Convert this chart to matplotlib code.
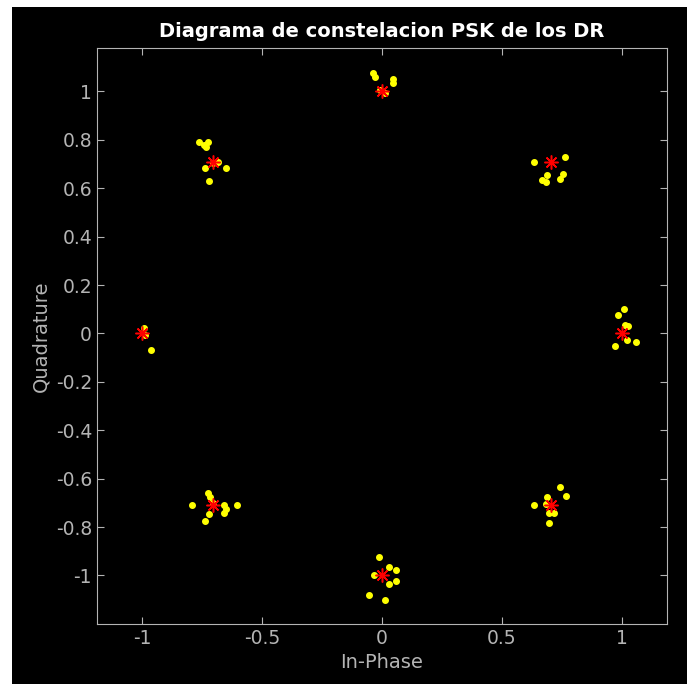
import numpy as np
import matplotlib
matplotlib.use("Agg")
import matplotlib.pyplot as plt
from matplotlib.patches import Rectangle

# received symbols (in-phase, quadrature)
rx_i = [-0.037, -0.029, 0.046, 0.046, -0.008, 0.012,
        0.634, 0.766, 0.687, 0.683, 0.667, 0.754, 0.745,
        -0.762, -0.741, -0.725, -0.733, -0.683, -0.737, -0.650, -0.720, -0.704,
        1.010, 0.986, 1.014, 1.027, 1.023, 1.060, 0.973,
        -0.992, -0.988, -0.965,
        -0.725, -0.716, -0.791, -0.658, -0.650, -0.658, -0.605, -0.720, -0.737, -0.704,
        0.745, 0.770, 0.634, 0.687, 0.683, 0.716, 0.696, 0.696,
        -0.012, 0.029, 0.058, -0.033, 0.029, 0.058, -0.054, 0.012]
rx_q = [1.077, 1.060, 1.050, 1.035, 1.006, 0.994,
        0.708, 0.729, 0.654, 0.625, 0.634, 0.658, 0.638,
        0.791, 0.778, 0.791, 0.770, 0.708, 0.683, 0.683, 0.629, 0.704,
        0.099, 0.075, 0.033, 0.029, -0.029, -0.037, -0.054,
        0.021, -0.008, -0.070,
        -0.658, -0.675, -0.708, -0.708, -0.725, -0.741, -0.708, -0.745, -0.774, -0.700,
        -0.634, -0.671, -0.708, -0.675, -0.704, -0.741, -0.741, -0.783,
        -0.923, -0.965, -0.977, -0.998, -1.035, -1.023, -1.081, -1.101]

# ideal 8-PSK constellation
ref_i = [1, 0.7071, 0, -0.7071, -1, -0.7071, 0, 0.7071]
ref_q = [0, 0.7071, 1, 0.7071, 0, -0.7071, -1, -0.7071]

x_ticks = [-1, -0.5, 0, 0.5, 1]
x_labels = ['-1', '-0.5', '0', '0.5', '1']
y_ticks = [-1, -0.8, -0.6, -0.4, -0.2, 0, 0.2, 0.4, 0.6, 0.8, 1]
y_labels = ['-1', '-0.8', '-0.6', '-0.4', '-0.2', '0', '0.2', '0.4', '0.6', '0.8', '1']

gray = '#b4b4b4'

fig = plt.figure(figsize=(6.87, 6.84), dpi=100, facecolor='white')
fig.patches.append(Rectangle((0.017, -0.1), 1.2, 1.09, transform=fig.transFigure,
                             facecolor='black', edgecolor='none', zorder=-1))
ax = fig.add_axes([0.141, 0.088, 0.830, 0.842])
ax.set_facecolor('black')

ax.plot(rx_i, rx_q, 'o', color='#ffff00', markersize=4, linestyle='none')
ax.plot(ref_i, ref_q, marker=(8, 2, 0), color='red', markersize=10,
        markeredgewidth=1.1, linestyle='none')

ax.set_xlim(-1.19, 1.19)
ax.set_ylim(-1.2, 1.18)
ax.set_xticks(x_ticks)
ax.set_xticklabels(x_labels)
ax.set_yticks(y_ticks)
ax.set_yticklabels(y_labels)

for s in ax.spines.values():
    s.set_color(gray)
ax.tick_params(direction='in', colors=gray, labelsize=13.5, top=True, right=True,
               length=5, labelcolor=gray)

ax.set_xlabel('In-Phase', color=gray, fontsize=14)
ax.set_ylabel('Quadrature', color=gray, fontsize=14)
ax.set_title('Diagrama de constelacion PSK de los DR', color='white',
             fontsize=14, fontweight='bold', pad=8)

fig.savefig('out.png', dpi=100, facecolor=fig.get_facecolor())
